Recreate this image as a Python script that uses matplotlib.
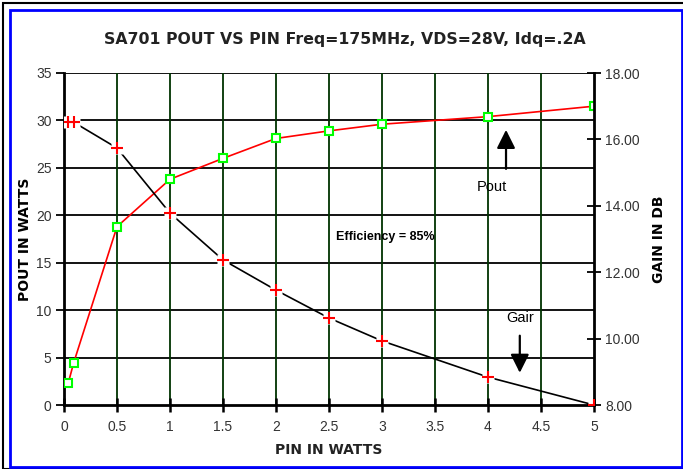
import matplotlib.pyplot as plt
from matplotlib.patches import Rectangle

plt.rcParams['font.family'] = ['Liberation Sans', 'DejaVu Sans']

pin = [0.04, 0.09, 0.5, 1.0, 1.5, 2.0, 2.5, 3.0, 4.0, 5.0]
pout = [2.3, 4.4, 18.8, 23.8, 26.0, 28.1, 28.9, 29.6, 30.4, 31.5]
gain = [16.52, 16.52, 15.74, 13.78, 12.37, 11.46, 10.62, 9.93, 8.84, 8.0]

x_ticks = [0, 0.5, 1, 1.5, 2, 2.5, 3, 3.5, 4, 4.5, 5]
x_labels = ['0', '0.5', '1', '1.5', '2', '2.5', '3', '3.5', '4', '4.5', '5']
pout_ticks = [0, 5, 10, 15, 20, 25, 30, 35]
gain_ticks = [8, 10, 12, 14, 16, 18]

fig = plt.figure(figsize=(6.83, 4.69), dpi=100)
ax = fig.add_axes([64 / 683, 1 - 405 / 469, 530 / 683, 332 / 469])
ax2 = ax.twinx()

# frame around the whole chart
fig.patches.append(Rectangle((3 / 683, 0), 1, 1 - 3 / 469, transform=fig.transFigure,
                             fill=False, ec='black', lw=1.5))
fig.patches.append(Rectangle((9.5 / 683, 2 / 469), 672 / 683, 457 / 469, transform=fig.transFigure,
                             fill=False, ec='#0000ff', lw=2))

ax.set_xlim(0, 5)
ax.set_ylim(0, 35)
ax2.set_ylim(8, 18)

for y in pout_ticks[1:]:
    ax.axhline(y, color='black', lw=1.3, zorder=1)
for x in x_ticks[1:-1]:
    ax.axvline(x, color='#003300', lw=1.3, zorder=1)

ax.plot(pin, pout, color='red', lw=1.2, zorder=3)
ax.plot(pin, pout, ls='none', marker='s', ms=6, mfc='white', mec='#00ff00', mew=1.5, zorder=4)

ax2.plot(pin, gain, color='black', lw=1.2, zorder=3)
ax2.plot(pin, gain, ls='none', marker='s', ms=9, mfc='white', mec='none', zorder=4)
ax2.plot(pin, gain, ls='none', marker='+', ms=9, mec='red', mew=1.5, zorder=5)

ax.set_xticks(x_ticks)
ax.set_xticklabels(x_labels)
ax.set_yticks(pout_ticks)
ax2.set_yticks(gain_ticks)
ax2.set_yticklabels(['%.2f' % g for g in gain_ticks])

for a in (ax, ax2):
    for s in a.spines.values():
        s.set_visible(False)
ax.spines['left'].set_visible(True)
ax.spines['left'].set_linewidth(2)
ax.spines['bottom'].set_visible(True)
ax.spines['bottom'].set_linewidth(2)
ax2.spines['right'].set_visible(True)
ax2.spines['right'].set_linewidth(2)

tick_color = '#333333'
ax.tick_params(axis='x', direction='inout', length=10, width=1.8, labelsize=10,
               labelcolor=tick_color, pad=6)
ax.tick_params(axis='y', direction='out', length=6, width=1.3, labelsize=10,
               labelcolor=tick_color, pad=3)
ax2.tick_params(axis='y', direction='inout', length=10, width=1.3, labelsize=10,
                labelcolor=tick_color, pad=3)

bold_font = ['DejaVu Sans']
ax.set_xlabel('PIN IN WATTS', fontsize=10, fontweight='bold', color='#222222',
              labelpad=6, family=bold_font)
ax.set_ylabel('POUT IN WATTS', fontsize=10, fontweight='bold', labelpad=3, family=bold_font)
ax2.set_ylabel('GAIN IN DB', fontsize=10, fontweight='bold', labelpad=9, family=bold_font)
ax.set_title('SA701 POUT VS PIN Freq=175MHz, VDS=28V, Idq=.2A', fontsize=11.3,
             fontweight='bold', color='#222222', pad=21, family=bold_font, x=0.53)

ax.text(3.03, 17.7, 'Efficiency = 85%', fontsize=9, fontweight='bold',
        ha='center', va='center', zorder=6)
ax.text(4.04, 23.0, 'Pout', fontsize=10.5, ha='center', va='center', zorder=6)
ax.annotate('', xy=(4.17, 29.3), xytext=(4.17, 24.6),
            arrowprops=dict(arrowstyle='-|>', color='black', lw=1.6, mutation_scale=28), zorder=6)
ax.text(4.30, 9.2, 'Gair', fontsize=10.5, ha='center', va='center', zorder=6)
ax.annotate('', xy=(4.30, 3.1), xytext=(4.30, 7.6),
            arrowprops=dict(arrowstyle='-|>', color='black', lw=1.6, mutation_scale=28), zorder=6)

fig.savefig('out.png', dpi=100)
